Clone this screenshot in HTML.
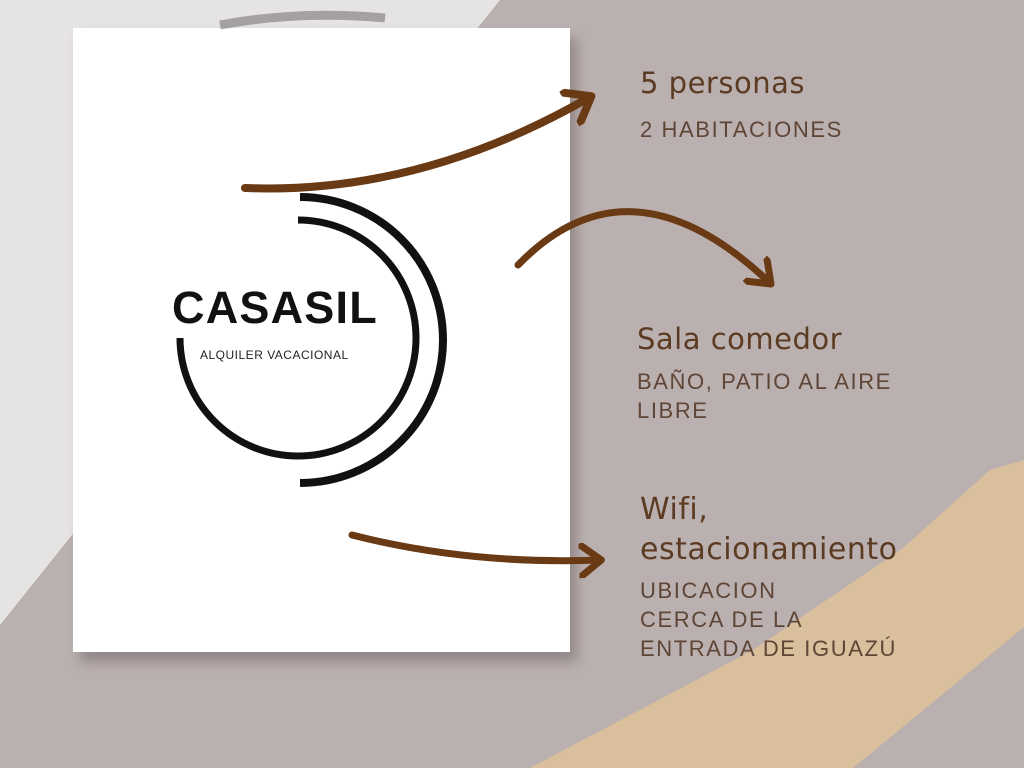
<!DOCTYPE html>
<html><head><meta charset="utf-8"><style>
html,body{margin:0;padding:0;}
body{width:1024px;height:768px;overflow:hidden;background:#bbb0b0;position:relative;font-family:"Liberation Sans",sans-serif;}
.t{position:absolute;color:#5b3b22;white-space:nowrap;}
.h{font-family:"DejaVu Sans","Liberation Sans",sans-serif;font-size:29px;letter-spacing:0.5px;}
.s{font-size:22px;letter-spacing:1.6px;color:#5e4535;line-height:29px;}
</style></head><body>
<svg width="1024" height="768" style="position:absolute;left:0;top:0">
<defs><filter id="sh" x="-10%" y="-10%" width="130%" height="130%"><feGaussianBlur stdDeviation="6"/></filter>
<marker id="ah" markerWidth="5" markerHeight="5" refX="3" refY="2.5" orient="auto" markerUnits="strokeWidth"><path d="M0.3,0.3 L3.2,2.5 L0.3,4.7" fill="none" stroke="#6a3a14" stroke-width="1" stroke-linecap="round" stroke-linejoin="round"/></marker></defs>
<polygon points="0,0 500,0 0,625" fill="#e6e3e3"/>
<polygon points="990,470 1024,460 1024,627 853,768 530,768 753,650 903,548" fill="#d9bf9c"/>
<rect x="80" y="38" width="497" height="624" fill="#6a6060" opacity="0.5" filter="url(#sh)"/>
<rect x="73" y="28" width="497" height="624" fill="#ffffff"/>
<path d="M220,25 Q300,10 385,18" stroke="#7a7575" stroke-width="9" fill="none" opacity="0.6"/>
<path d="M300,197 A143,143 0 0 1 300,483" stroke="#111" stroke-width="8" fill="none"/>
<path d="M298,220 A118,118 0 1 1 180,338" stroke="#111" stroke-width="7" fill="none"/>
<path d="M245,188 Q420,195 590,97" stroke="#6a3a14" stroke-width="8" fill="none" stroke-linecap="round" marker-end="url(#ah)"/>
<path d="M518,265 Q630,150 770,283" stroke="#6a3a14" stroke-width="7" fill="none" stroke-linecap="round" marker-end="url(#ah)"/>
<path d="M352,535 Q470,565 600,560" stroke="#6a3a14" stroke-width="7" fill="none" stroke-linecap="round" marker-end="url(#ah)"/>
</svg>
<div class="t" style="left:172px;top:282px;font-size:45px;font-weight:bold;color:#111;letter-spacing:1.2px">CASASIL</div>
<div class="t" style="left:200px;top:348px;font-size:12px;color:#222;letter-spacing:0.5px">ALQUILER VACACIONAL</div>
<div class="t h" style="left:640px;top:66px">5 personas</div>
<div class="t s" style="left:640px;top:115px">2 HABITACIONES</div>
<div class="t h" style="left:637px;top:322px">Sala comedor</div>
<div class="t s" style="left:637px;top:367px">BAÑO, PATIO AL AIRE<br>LIBRE</div>
<div class="t h" style="left:640px;top:490px;line-height:40px;font-size:30px">Wifi,<br>estacionamiento</div>
<div class="t s" style="left:640px;top:576px">UBICACION<br>CERCA DE LA<br>ENTRADA DE IGUAZÚ</div>
</body></html>
